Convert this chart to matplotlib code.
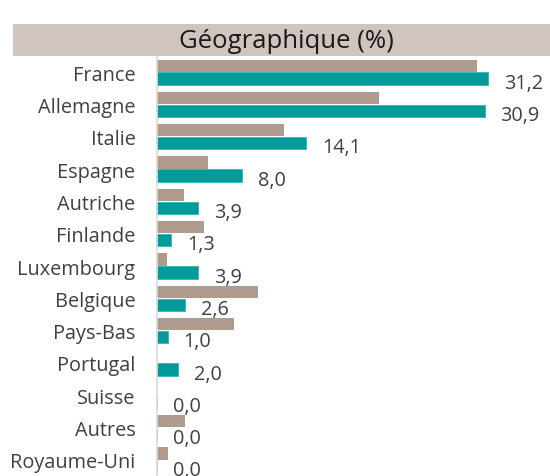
import matplotlib
matplotlib.use("Agg")
import matplotlib.pyplot as plt
from matplotlib.patches import Rectangle
import numpy as np

categories = ["France", "Allemagne", "Italie", "Espagne", "Autriche", "Finlande",
              "Luxembourg", "Belgique", "Pays-Bas", "Portugal", "Suisse", "Autres",
              "Royaume-Uni"]
benchmark = [30.2, 20.9, 12.0, 4.8, 2.5, 4.4, 0.9, 9.5, 7.3, 0.0, 0.0, 2.6, 1.0]
fund = [31.2, 30.9, 14.1, 8.0, 3.9, 1.3, 3.9, 2.6, 1.0, 2.0, 0.0, 0.0, 0.0]
title = "Géographique (%)"

plt.rcParams['font.family'] = ['Open Sans', 'DejaVu Sans']

W, H = 550, 477
fig = plt.figure(figsize=(W / 100, H / 100), dpi=100)

# title band
fig.patches.append(Rectangle((13 / W, 1 - 57 / H), (W - 13) / W, 32 / H,
                             transform=fig.transFigure, facecolor="#D0C4BF",
                             edgecolor="none", zorder=0))
fig.text(286 / W, 1 - 41 / H, title, ha="center", va="center",
         fontsize=18.5, color="#1a1a1a")

ax = fig.add_axes([157 / W, 0, (W - 157) / W, (H - 57) / H])
y = np.arange(len(categories))
h = 0.38
ax.barh(y - 0.2, benchmark, height=h, color="#B09B8F", edgecolor="none")
ax.barh(y + 0.2, fund, height=h, color="#009A9A", edgecolor="#33B5B5", linewidth=0.6)

for yi, v in zip(y, fund):
    ax.annotate(f"{v:.1f}".replace(".", ","), xy=(v, yi + 0.2), xytext=(11.5, -3),
                textcoords="offset points", ha="left", va="center",
                fontsize=14.3, color="#404040")

ax.set_xlim(0, (W - 157) / 10.6)
ax.set_ylim(len(categories) - 0.5, -0.5)
ax.set_yticks(y)
ax.set_yticklabels(categories, fontsize=14.3, color="#404040")
ax.tick_params(axis="y", length=0, pad=15.5)
ax.set_xticks([])
for s in ["top", "right", "bottom"]:
    ax.spines[s].set_visible(False)
ax.spines["left"].set_color("#D9D9D9")
ax.spines["left"].set_linewidth(1.2)
ax.patch.set_alpha(0)

fig.savefig("out.png", dpi=100)
